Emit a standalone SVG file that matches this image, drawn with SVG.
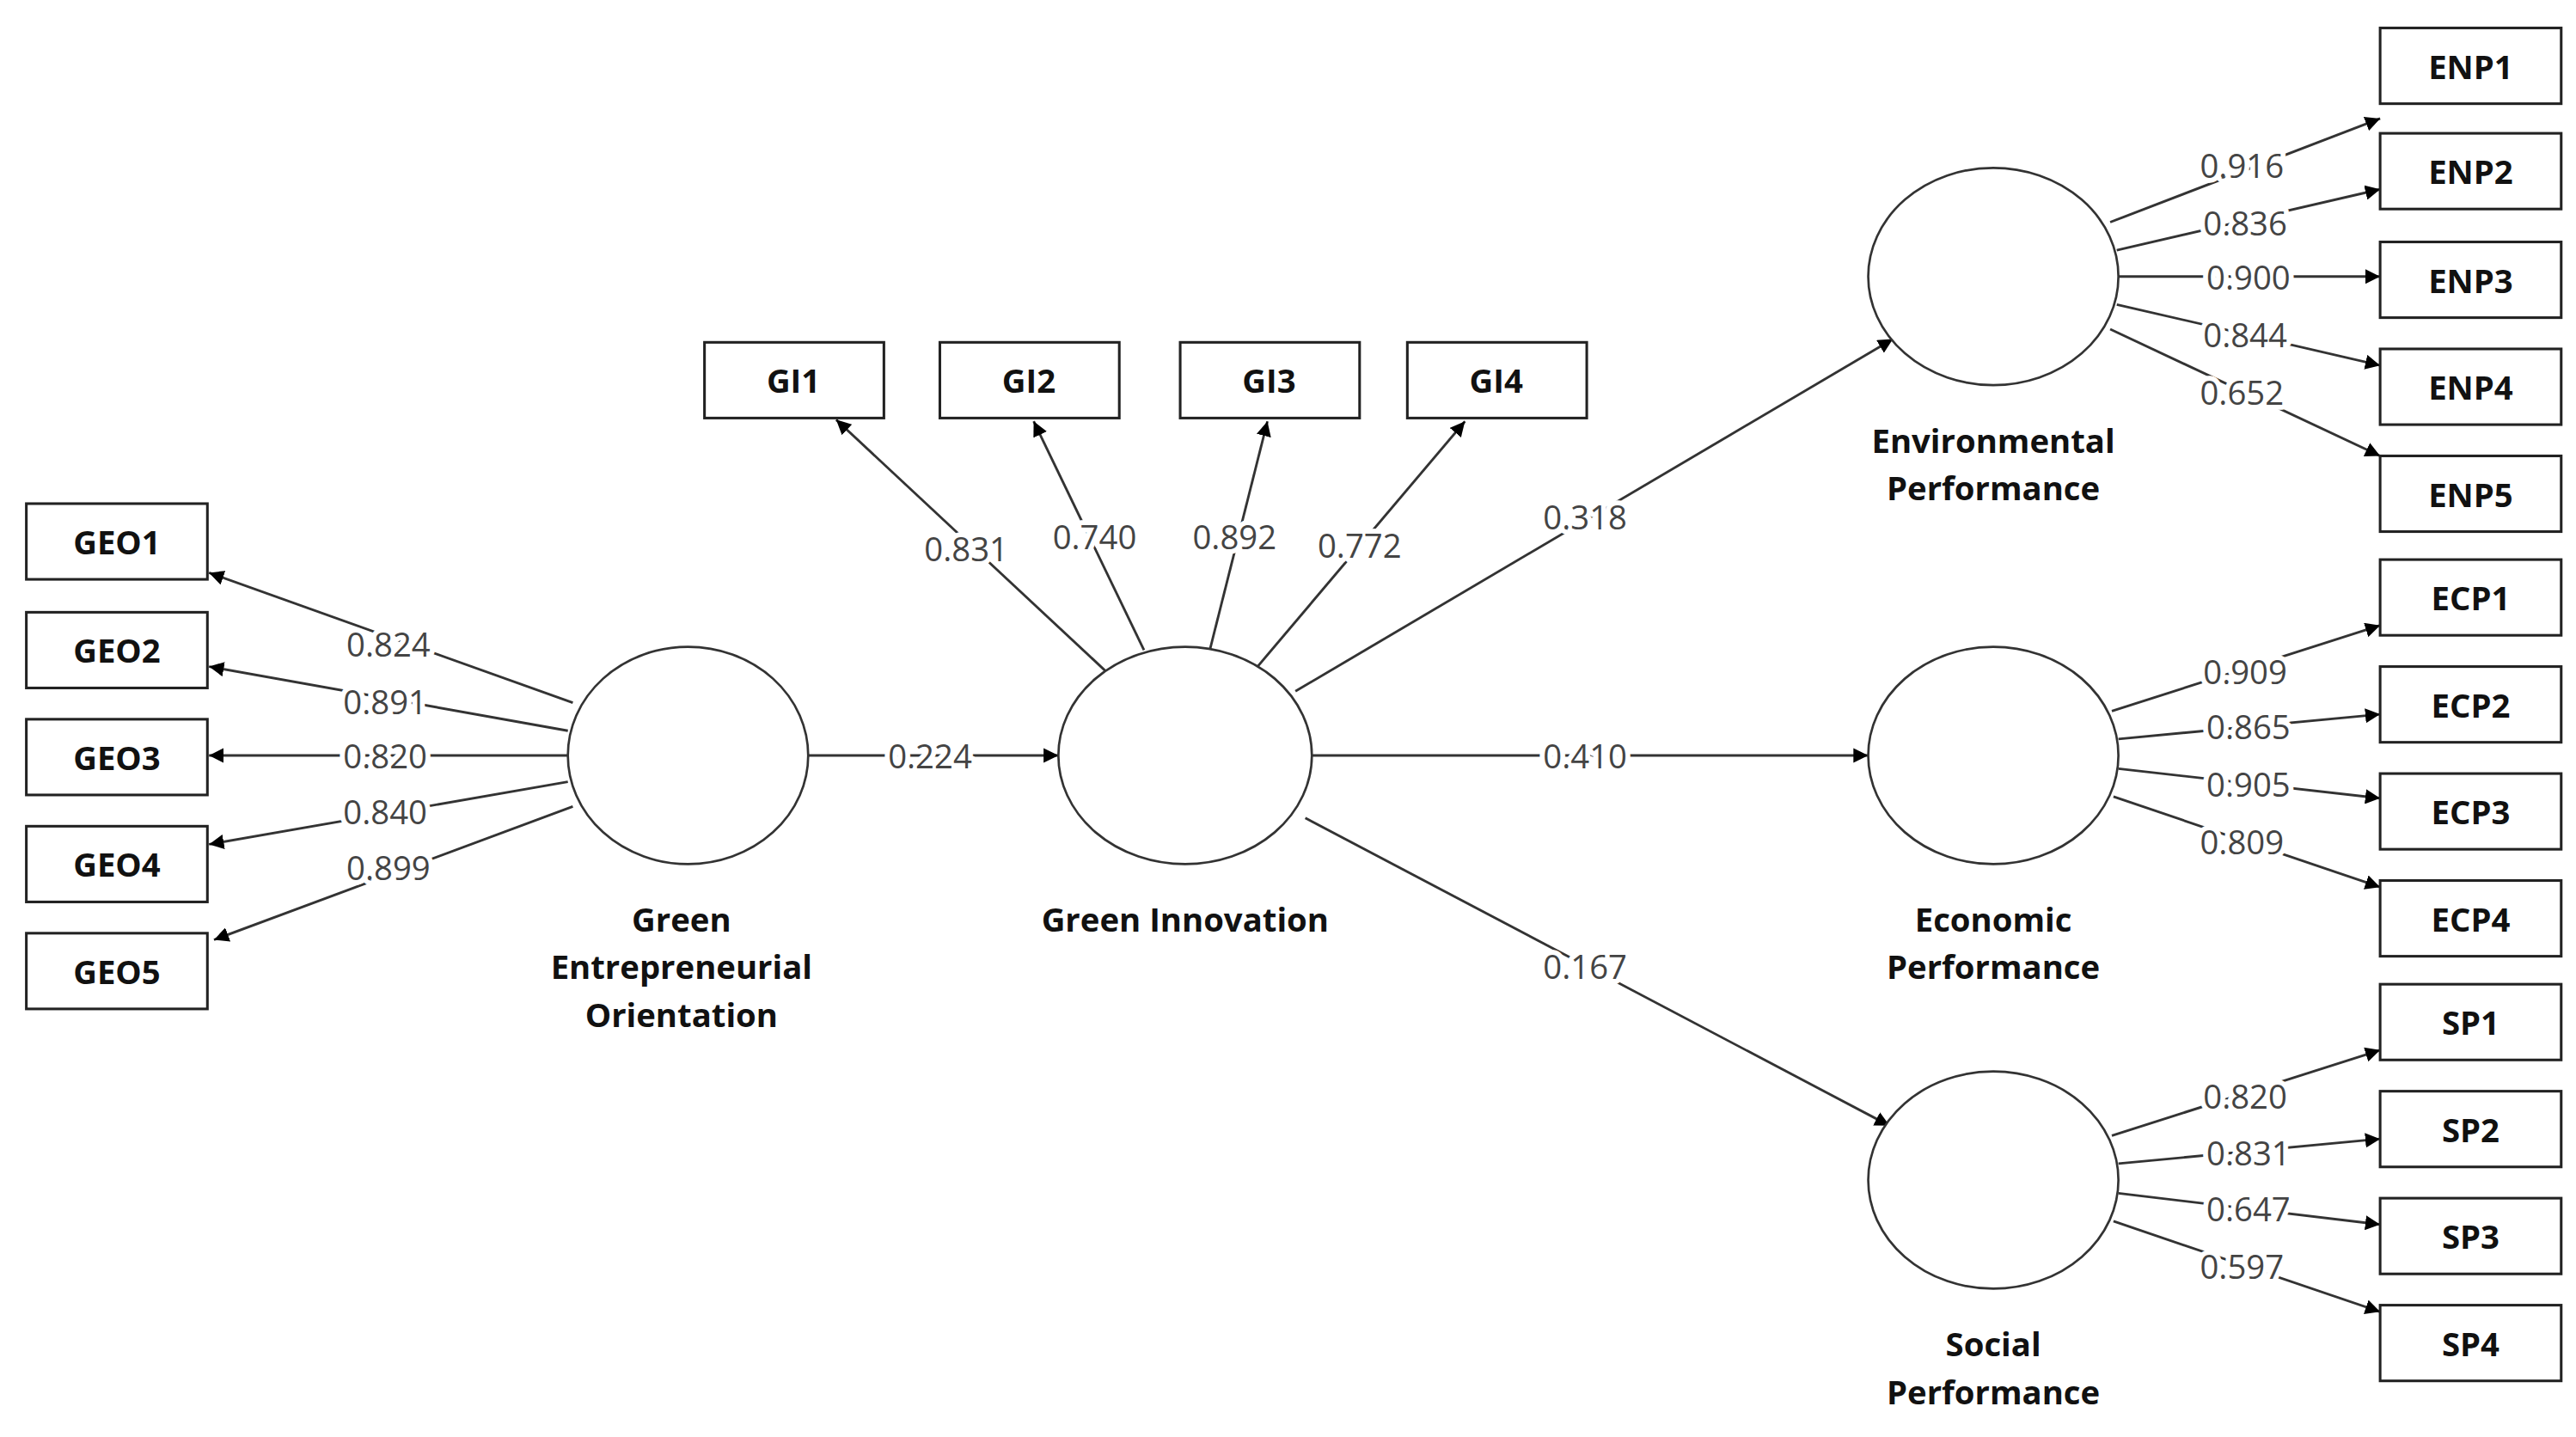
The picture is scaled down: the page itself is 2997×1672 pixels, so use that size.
<svg xmlns="http://www.w3.org/2000/svg" width="2997" height="1672" viewBox="0 0 2997 1672">
<defs>
<marker id="ah" viewBox="0 0 10 10" refX="10" refY="5" markerWidth="9" markerHeight="9" markerUnits="userSpaceOnUse" orient="auto"><path d="M0,0 L10,5 L0,10 z" fill="#000"/></marker>
<style>
.box{fill:#fff;stroke:#222;stroke-width:1.6}
.ell{fill:#fff;stroke:#333;stroke-width:1.4}
.bt{font-family:"Open Sans","DejaVu Sans",sans-serif;font-weight:bold;font-size:20px;fill:#111;text-anchor:middle;dominant-baseline:central}
.lt{font-family:"Open Sans","DejaVu Sans",sans-serif;font-weight:bold;font-size:20px;fill:#111;text-anchor:middle}
.nt{font-family:"Open Sans","DejaVu Sans",sans-serif;font-size:20px;fill:#444;text-anchor:middle;dominant-baseline:central;stroke:#fff;stroke-width:6px;paint-order:stroke;stroke-linejoin:round}
.c line{stroke:#333;stroke-width:1.5;marker-end:url(#ah)}
</style>
</defs>
<rect width="2997" height="1672" fill="#fff"/>
<g transform="scale(1.91502)">
<g class="c" id="connectors">
<line x1="348" y1="427" x2="127" y2="348"/>
<line x1="345" y1="444" x2="127" y2="405"/>
<line x1="345" y1="459" x2="127" y2="459"/>
<line x1="345" y1="475" x2="127" y2="513"/>
<line x1="348" y1="490" x2="130" y2="571"/>
<line x1="672" y1="408" x2="508" y2="255"/>
<line x1="695" y1="395" x2="628" y2="256"/>
<line x1="735" y1="395" x2="770" y2="256"/>
<line x1="764" y1="405" x2="890" y2="256"/>
<line x1="491" y1="459" x2="643" y2="459"/>
<line x1="787" y1="420" x2="1150" y2="206"/>
<line x1="797" y1="459" x2="1135" y2="459"/>
<line x1="793" y1="497" x2="1148" y2="684"/>
<line x1="1282" y1="135" x2="1446" y2="72"/>
<line x1="1286" y1="152" x2="1446" y2="115"/>
<line x1="1287" y1="168" x2="1446" y2="168"/>
<line x1="1286" y1="185" x2="1446" y2="222"/>
<line x1="1282" y1="200" x2="1446" y2="277"/>
<line x1="1283" y1="432" x2="1446" y2="380"/>
<line x1="1287" y1="449" x2="1446" y2="434"/>
<line x1="1287" y1="467" x2="1446" y2="485"/>
<line x1="1284" y1="484" x2="1446" y2="539"/>
<line x1="1283" y1="690" x2="1446" y2="638"/>
<line x1="1287" y1="707" x2="1446" y2="692"/>
<line x1="1287" y1="725" x2="1446" y2="744"/>
<line x1="1284" y1="742" x2="1446" y2="797"/>
<text class="nt" x="565" y="459">0.224</text>
<text class="nt" x="963" y="314">0.318</text>
<text class="nt" x="963" y="459">0.410</text>
<text class="nt" x="963" y="587">0.167</text>
<text class="nt" x="587" y="333">0.831</text>
<text class="nt" x="665" y="326">0.740</text>
<text class="nt" x="750" y="326">0.892</text>
<text class="nt" x="826" y="331">0.772</text>
<text class="nt" x="236" y="391">0.824</text>
<text class="nt" x="234" y="426">0.891</text>
<text class="nt" x="234" y="459">0.820</text>
<text class="nt" x="234" y="493">0.840</text>
<text class="nt" x="236" y="527">0.899</text>
<text class="nt" x="1362" y="100">0.916</text>
<text class="nt" x="1364" y="135">0.836</text>
<text class="nt" x="1366" y="168">0.900</text>
<text class="nt" x="1364" y="203">0.844</text>
<text class="nt" x="1362" y="238">0.652</text>
<text class="nt" x="1364" y="408">0.909</text>
<text class="nt" x="1366" y="441">0.865</text>
<text class="nt" x="1366" y="476">0.905</text>
<text class="nt" x="1362" y="511">0.809</text>
<text class="nt" x="1364" y="666">0.820</text>
<text class="nt" x="1366" y="700">0.831</text>
<text class="nt" x="1366" y="734">0.647</text>
<text class="nt" x="1362" y="769">0.597</text>
</g>
<g id="GEO"><ellipse class="ell" cx="418" cy="459" rx="73" ry="66"/><text class="lt" x="414" y="566">Green</text><text class="lt" x="414" y="595">Entrepreneurial</text><text class="lt" x="414" y="624">Orientation</text></g>
<g id="GI"><ellipse class="ell" cx="720" cy="459" rx="77" ry="66"/><text class="lt" x="720" y="566">Green Innovation</text></g>
<g id="ENP"><ellipse class="ell" cx="1211" cy="168" rx="76" ry="66"/><text class="lt" x="1211" y="275">Environmental</text><text class="lt" x="1211" y="304">Performance</text></g>
<g id="ECP"><ellipse class="ell" cx="1211" cy="459" rx="76" ry="66"/><text class="lt" x="1211" y="566">Economic</text><text class="lt" x="1211" y="595">Performance</text></g>
<g id="SP"><ellipse class="ell" cx="1211" cy="717" rx="76" ry="66"/><text class="lt" x="1211" y="824">Social</text><text class="lt" x="1211" y="853">Performance</text></g>
<g id="GEO1"><rect class="box" x="16" y="306" width="110" height="46"/><text class="bt" x="71" y="329">GEO1</text></g>
<g id="GEO2"><rect class="box" x="16" y="372" width="110" height="46"/><text class="bt" x="71" y="395">GEO2</text></g>
<g id="GEO3"><rect class="box" x="16" y="437" width="110" height="46"/><text class="bt" x="71" y="460">GEO3</text></g>
<g id="GEO4"><rect class="box" x="16" y="502" width="110" height="46"/><text class="bt" x="71" y="525">GEO4</text></g>
<g id="GEO5"><rect class="box" x="16" y="567" width="110" height="46"/><text class="bt" x="71" y="590">GEO5</text></g>
<g id="GI1"><rect class="box" x="428" y="208" width="109" height="46"/><text class="bt" x="482" y="231">GI1</text></g>
<g id="GI2"><rect class="box" x="571" y="208" width="109" height="46"/><text class="bt" x="625" y="231">GI2</text></g>
<g id="GI3"><rect class="box" x="717" y="208" width="109" height="46"/><text class="bt" x="771" y="231">GI3</text></g>
<g id="GI4"><rect class="box" x="855" y="208" width="109" height="46"/><text class="bt" x="909" y="231">GI4</text></g>
<g id="ENP1"><rect class="box" x="1446" y="17" width="110" height="46"/><text class="bt" x="1501" y="40">ENP1</text></g>
<g id="ENP2"><rect class="box" x="1446" y="81" width="110" height="46"/><text class="bt" x="1501" y="104">ENP2</text></g>
<g id="ENP3"><rect class="box" x="1446" y="147" width="110" height="46"/><text class="bt" x="1501" y="170">ENP3</text></g>
<g id="ENP4"><rect class="box" x="1446" y="212" width="110" height="46"/><text class="bt" x="1501" y="235">ENP4</text></g>
<g id="ENP5"><rect class="box" x="1446" y="277" width="110" height="46"/><text class="bt" x="1501" y="300">ENP5</text></g>
<g id="ECP1"><rect class="box" x="1446" y="340" width="110" height="46"/><text class="bt" x="1501" y="363">ECP1</text></g>
<g id="ECP2"><rect class="box" x="1446" y="405" width="110" height="46"/><text class="bt" x="1501" y="428">ECP2</text></g>
<g id="ECP3"><rect class="box" x="1446" y="470" width="110" height="46"/><text class="bt" x="1501" y="493">ECP3</text></g>
<g id="ECP4"><rect class="box" x="1446" y="535" width="110" height="46"/><text class="bt" x="1501" y="558">ECP4</text></g>
<g id="SP1"><rect class="box" x="1446" y="598" width="110" height="46"/><text class="bt" x="1501" y="621">SP1</text></g>
<g id="SP2"><rect class="box" x="1446" y="663" width="110" height="46"/><text class="bt" x="1501" y="686">SP2</text></g>
<g id="SP3"><rect class="box" x="1446" y="728" width="110" height="46"/><text class="bt" x="1501" y="751">SP3</text></g>
<g id="SP4"><rect class="box" x="1446" y="793" width="110" height="46"/><text class="bt" x="1501" y="816">SP4</text></g>
</g>
</svg>
